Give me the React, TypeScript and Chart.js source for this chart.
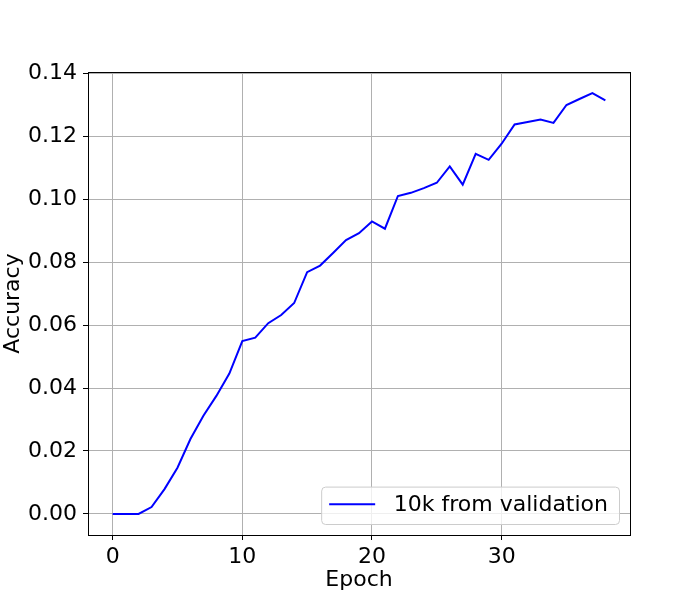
import { useEffect, useRef } from 'react';
import { Chart, registerables } from 'chart.js';

Chart.register(...registerables);

const FONT = { family: '"DejaVu Sans", sans-serif', size: 22 };

// ─── Data ─────────────────────────────────────────────────────────────────────

const epochs = [
  0, 1, 2, 3, 4, 5, 6, 7, 8, 9,
  10, 11, 12, 13, 14, 15, 16, 17, 18, 19,
  20, 21, 22, 23, 24, 25, 26, 27, 28, 29,
  30, 31, 32, 33, 34, 35, 36, 37, 38,
];
const accuracy = [
  0.0, 0.0, 0.0, 0.0022, 0.0079, 0.0147, 0.0238, 0.0312, 0.0375, 0.0446,
  0.0549, 0.0560, 0.0606, 0.0632, 0.0670, 0.0768, 0.0789, 0.0829, 0.0870, 0.0892,
  0.0929, 0.0906, 0.1010, 0.1020, 0.1035, 0.1052, 0.1104, 0.1046, 0.1144, 0.1125,
  0.1176, 0.1237, 0.1245, 0.1253, 0.1242, 0.1299, 0.1318, 0.1337, 0.1314,
];
const xTicks = [0, 10, 20, 30];
const yTicks = [0, 0.02, 0.04, 0.06, 0.08, 0.1, 0.12, 0.14];
const seriesLabel = '10k from validation';

// ─── Plugins: full frame + matplotlib style legend ───────────────────────────

const framePlugin = {
  id: 'frame',
  afterDatasetsDraw(chart: Chart) {
    const { ctx, chartArea: a } = chart;
    ctx.save();
    ctx.strokeStyle = '#000';
    ctx.lineWidth = 1;
    ctx.strokeRect(Math.round(a.left) + 0.5, Math.round(a.top) + 0.5,
      Math.round(a.right - a.left), Math.round(a.bottom - a.top));
    ctx.restore();
  },
};

const legendPlugin = {
  id: 'mplLegend',
  afterDraw(chart: Chart) {
    const { ctx, chartArea: a } = chart;
    const fs = FONT.size;
    ctx.save();
    ctx.font = `${fs}px ${FONT.family}`;
    const tw = ctx.measureText(seriesLabel).width;
    const pad = 8, handle = 2 * fs + 2, gap = 0.8 * fs + 1;
    const w = pad + handle + gap + tw + 0.5 * fs;
    const h = 1.7 * fs;
    const x = a.right - 0.5 * fs - w;
    const y = a.bottom - 0.5 * fs - h;

    ctx.beginPath();
    ctx.roundRect(x + 0.5, y + 0.5, w, h, 4);
    ctx.fillStyle = 'rgba(255,255,255,0.8)';
    ctx.fill();
    ctx.strokeStyle = '#cccccc';
    ctx.lineWidth = 1;
    ctx.stroke();

    const cy = y + h / 2 - 1;
    ctx.beginPath();
    ctx.moveTo(x + pad, cy);
    ctx.lineTo(x + pad + handle, cy);
    ctx.strokeStyle = '#0000ff';
    ctx.lineWidth = 2;
    ctx.stroke();

    ctx.fillStyle = '#000';
    ctx.textBaseline = 'middle';
    ctx.fillText(seriesLabel, x + pad + handle + gap, cy + 1);
    ctx.restore();
  },
};

// ─── Accuracy Line Chart ──────────────────────────────────────────────────────

function AccuracyChart() {
  const canvasRef = useRef<HTMLCanvasElement>(null);
  const chartRef = useRef<Chart | null>(null);

  useEffect(() => {
    if (!canvasRef.current) return;
    const existing = Chart.getChart(canvasRef.current);
    if (existing) existing.destroy();
    chartRef.current?.destroy();

    const xMin = Math.min(...epochs), xMax = Math.max(...epochs);
    const yMin = Math.min(...accuracy), yMax = Math.max(...accuracy);
    const xm = 0.05 * (xMax - xMin), ym = 0.05 * (yMax - yMin);

    chartRef.current = new Chart(canvasRef.current, {
      type: 'line',
      data: {
        datasets: [{
          label: seriesLabel,
          data: epochs.map((e, i) => ({ x: e, y: accuracy[i] })),
          borderColor: '#0000ff',
          borderWidth: 2,
          pointRadius: 0,
          tension: 0,
          fill: false,
        }],
      },
      options: {
        responsive: false,
        animation: false,
        devicePixelRatio: 1,
        layout: { padding: { top: 72, right: 70, left: 0, bottom: 0 } },
        plugins: {
          legend: { display: false },
          tooltip: { enabled: false },
        },
        scales: {
          x: {
            type: 'linear',
            min: xMin - xm,
            max: xMax + xm,
            afterBuildTicks: (s: any) => { s.ticks = xTicks.map(v => ({ value: v })); },
            afterFit: (s: any) => { s.height = 65; },
            grid: { color: '#b0b0b0', lineWidth: 1, tickColor: '#000', tickLength: 5, drawTicks: true },
            border: { display: false },
            ticks: { font: FONT, color: '#000', padding: 4, maxRotation: 0, callback: (v: any) => String(v) },
            title: { display: true, text: 'Epoch', font: FONT, color: '#000', padding: { top: 0, bottom: 7 } },
          },
          y: {
            min: yMin - ym,
            max: yMax + ym,
            afterBuildTicks: (s: any) => { s.ticks = yTicks.map(v => ({ value: v })); },
            afterFit: (s: any) => { s.width = 88; },
            grid: { color: '#b0b0b0', lineWidth: 1, tickColor: '#000', tickLength: 5, drawTicks: true },
            border: { display: false },
            ticks: { font: FONT, color: '#000', padding: 6, callback: (v: any) => Number(v).toFixed(2) },
            title: { display: true, text: 'Accuracy', font: FONT, color: '#000', padding: { top: 0, bottom: 0 } },
          },
        },
      },
      plugins: [framePlugin, legendPlugin],
    });

    return () => { chartRef.current?.destroy(); chartRef.current = null; };
  }, []);

  return <canvas ref={canvasRef} width={700} height={600} />;
}

export default function App() {
  return (
    <div style={{ position: 'absolute', left: 0, top: 0, width: 700, height: 600, background: '#fff' }}>
      <AccuracyChart />
    </div>
  );
}
